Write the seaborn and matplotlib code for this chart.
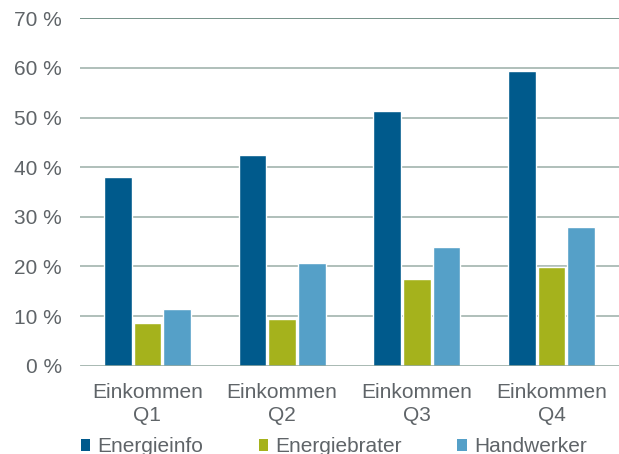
import matplotlib
matplotlib.use("Agg")
import matplotlib.pyplot as plt
from matplotlib.patches import Patch
from matplotlib.ticker import FuncFormatter
import pandas as pd
import seaborn as sns

categories = ["Einkommen\nQ1", "Einkommen\nQ2", "Einkommen\nQ3", "Einkommen\nQ4"]
series_names = ["Energieinfo", "Energiebrater", "Handwerker"]
energieinfo = [38.0, 42.5, 51.3, 59.4]
energiebrater = [8.6, 9.4, 17.5, 19.9]
handwerker = [11.4, 20.7, 23.9, 28.0]
y_ticks = [0, 10, 20, 30, 40, 50, 60, 70]

colors = ["#005a8c", "#a5b21c", "#55a0c8"]
text_color = "#5f6468"
fs = 15

rows = []
for name, vals in zip(series_names, [energieinfo, energiebrater, handwerker]):
    for cat, v in zip(categories, vals):
        rows.append({"Kategorie": cat, "Gruppe": name, "Wert": v})
df = pd.DataFrame(rows)

sns.set_theme(style="white")
plt.rcParams["font.family"] = ["Liberation Sans", "DejaVu Sans"]

fig = plt.figure(figsize=(6.19, 4.54), dpi=100)
ax = fig.add_axes([80 / 619, 1 - 365.7 / 454, 1 - 80 / 619, (365.7 - 18.3) / 454])

sns.barplot(data=df, x="Kategorie", y="Wert", hue="Gruppe", order=categories,
            hue_order=series_names, palette=colors, width=0.66, gap=0.07,
            saturation=1, errorbar=None, legend=False, ax=ax, zorder=3)

ax.set_ylim(0, 70)
ax.set_xlim(-0.5, 3.5)
ax.set_yticks(y_ticks)
ax.yaxis.set_major_formatter(FuncFormatter(lambda v, _: f"{int(v)} %"))
for t in y_ticks[1:-1]:
    ax.axhline(t, color="#a9bab4", lw=1.3, zorder=1)
ax.axhline(70, color="#6b8a80", lw=1.3, zorder=1)
ax.axhline(0, color="#8fa49c", lw=1.8, zorder=4)

for s in ax.spines.values():
    s.set_visible(False)
ax.set_xlabel("")
ax.set_ylabel("")
ax.tick_params(axis="y", length=0, pad=13, labelsize=fs, labelcolor=text_color)
ax.tick_params(axis="x", length=0, pad=12.5, labelsize=fs, labelcolor=text_color)
for lbl in ax.get_xticklabels():
    lbl.set_linespacing(1.27)

handles = [Patch(facecolor=c, edgecolor="none", label=n) for c, n in zip(colors, series_names)]
fig.legend(handles=handles, loc="center left", bbox_to_anchor=(81 / 619, 1 - 447 / 454),
           ncol=3, frameon=False, fontsize=fs, labelcolor=text_color,
           handlelength=0.45, handleheight=0.45, handletextpad=0.35,
           columnspacing=2.65, borderaxespad=0, borderpad=0)

fig.savefig("out.png", dpi=100)
